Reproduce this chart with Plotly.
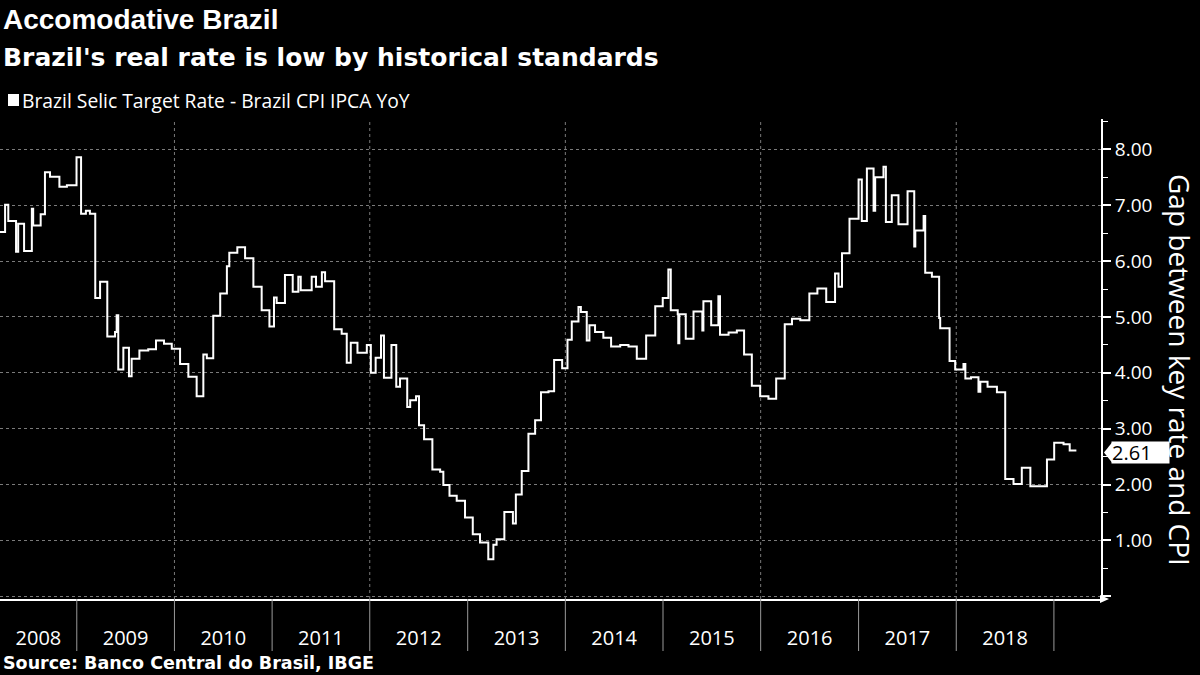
import pandas as pd
import plotly.graph_objects as go

# ---- data ----
dates = [
    "2008-03-20", "2008-04-08", "2008-04-20", "2008-05-19", "2008-05-27", "2008-06-18",
    "2008-07-17", "2008-07-22", "2008-08-19", "2008-09-04", "2008-09-23", "2008-10-28",
    "2008-11-25", "2008-12-31", "2009-01-17", "2009-02-04", "2009-02-19", "2009-03-11",
    "2009-03-29", "2009-04-25", "2009-05-24", "2009-05-30", "2009-06-05", "2009-06-24",
    "2009-07-15", "2009-07-25", "2009-08-23", "2009-09-25", "2009-10-24", "2009-11-23",
    "2009-12-22", "2010-01-22", "2010-02-22", "2010-03-25", "2010-04-19", "2010-05-02",
    "2010-05-26", "2010-06-21", "2010-07-16", "2010-07-25", "2010-08-24", "2010-09-22",
    "2010-10-23", "2010-11-23", "2010-12-22", "2011-01-08", "2011-01-18", "2011-02-18",
    "2011-03-19", "2011-04-09", "2011-04-18", "2011-05-29", "2011-06-14", "2011-07-06",
    "2011-07-18", "2011-08-21", "2011-09-18", "2011-10-07", "2011-10-22", "2011-11-16",
    "2011-12-21", "2012-01-05", "2012-01-23", "2012-02-12", "2012-02-23", "2012-03-22",
    "2012-04-09", "2012-04-23", "2012-05-20", "2012-05-31", "2012-06-22", "2012-07-03",
    "2012-07-22", "2012-08-22", "2012-09-20", "2012-10-02", "2012-10-25", "2012-11-21",
    "2012-12-22", "2013-01-20", "2013-02-16", "2013-03-19", "2013-04-07", "2013-04-19",
    "2013-05-18", "2013-06-19", "2013-06-30", "2013-07-22", "2013-08-16", "2013-09-10",
    "2013-10-02", "2013-10-30", "2013-11-20", "2013-12-20", "2014-01-09", "2014-01-25",
    "2014-02-19", "2014-02-28", "2014-03-22", "2014-04-01", "2014-04-22", "2014-05-23",
    "2014-06-21", "2014-07-25", "2014-08-25", "2014-09-25", "2014-10-30", "2014-12-03",
    "2014-12-31", "2015-01-21", "2015-01-30", "2015-02-25", "2015-02-27", "2015-03-03",
    "2015-03-27", "2015-04-25", "2015-05-28", "2015-06-01", "2015-06-30", "2015-07-27",
    "2015-08-02", "2015-09-03", "2015-10-04", "2015-10-31", "2015-11-29", "2015-12-30",
    "2016-01-30", "2016-02-28", "2016-03-31", "2016-04-27", "2016-05-28", "2016-07-01",
    "2016-07-31", "2016-09-02", "2016-10-05", "2016-10-18", "2016-10-31", "2016-11-28",
    "2017-01-01", "2017-01-13", "2017-02-01", "2017-02-26", "2017-03-04", "2017-04-04",
    "2017-04-13", "2017-05-05", "2017-05-30", "2017-07-03", "2017-07-28", "2017-08-01",
    "2017-09-01", "2017-09-07", "2017-10-02", "2017-10-29", "2017-11-02", "2017-12-07",
    "2017-12-28", "2018-01-28", "2018-02-04", "2018-02-25", "2018-03-25", "2018-04-01",
    "2018-04-28", "2018-06-02", "2018-07-03", "2018-08-03", "2018-09-03", "2018-10-05",
    "2018-12-06", "2019-01-02", "2019-02-06", "2019-03-01", "2019-03-26",
]
gap = [
    6.52, 7.01, 6.72, 6.17, 6.67, 6.18,
    6.94, 6.64, 6.84, 7.59, 7.51, 7.33,
    7.36, 7.86, 6.85, 6.90, 6.85, 5.34,
    5.63, 4.65, 4.73, 5.03, 4.06, 4.45,
    3.94, 4.25, 4.40, 4.42, 4.58, 4.52,
    4.43, 4.16, 3.93, 3.58, 4.33, 4.26,
    5.02, 5.42, 5.91, 6.15, 6.25, 6.05,
    5.54, 5.12, 4.83, 5.35, 5.25, 5.75,
    5.45, 5.72, 5.48, 5.72, 5.54, 5.80,
    5.64, 4.78, 4.70, 4.18, 4.54, 4.36,
    4.50, 4.00, 4.27, 4.67, 3.91, 4.50,
    3.75, 3.90, 3.39, 3.51, 3.58, 3.06,
    2.81, 2.27, 2.23, 1.99, 1.80, 1.71,
    1.41, 1.11, 0.96, 0.66, 0.92, 1.02,
    1.51, 1.30, 1.82, 2.24, 2.91, 3.15,
    3.65, 3.67, 4.23, 4.08, 4.59, 4.92,
    5.18, 5.09, 4.58, 4.85, 4.73, 4.63,
    4.47, 4.50, 4.47, 4.25, 4.67, 5.19,
    5.34, 5.85, 5.12, 5.05, 4.53, 5.05,
    4.61, 5.10, 4.76, 5.28, 4.85, 5.37,
    4.68, 4.72, 4.76, 4.33, 3.77, 3.58,
    3.535, 3.90, 4.87, 4.97, 4.94, 5.42,
    5.51, 5.27, 5.78, 5.54, 6.14, 6.76,
    7.46, 6.72, 7.66, 6.90, 7.50, 7.69,
    6.70, 7.18, 6.66, 7.25, 6.26, 6.55,
    6.81, 5.79, 5.72, 4.98, 4.80, 4.21,
    4.06, 4.16, 3.90, 3.92, 3.66, 3.84,
    3.75, 3.65, 2.10, 2.01, 2.30, 1.97,
    2.45, 2.75, 2.72, 2.61, 2.61,
]
year_labels = ["2008", "2009", "2010", "2011", "2012", "2013",
               "2014", "2015", "2016", "2017", "2018"]
y_tick_values = [0, 1, 2, 3, 4, 5, 6, 7, 8]
y_tick_text = ["", "1.00", "2.00", "3.00", "4.00", "5.00", "6.00", "7.00", "8.00"]

title = "Accomodative Brazil"
subtitle = "Brazil's real rate is low by historical standards"
series_name = "Brazil Selic Target Rate - Brazil CPI IPCA YoY"
y_title = "Gap between key rate and CPI"
source = "Source: Banco Central do Brasil, IBGE"

# ---- layout constants ----
W, H = 1200, 675
M_L, M_R, M_T, M_B = 0, 99, 119, 76
PW, PH = W - M_L - M_R, H - M_T - M_B
X_START, X_END = pd.Timestamp("2008-03-20"), pd.Timestamp("2019-06-26")
Y_MIN, Y_MAX = -0.05, 8.545
GRID = "#7a7a7a"
FONT = "Open Sans, sans-serif"


def px_x(x):
    return (x - M_L) / PW


def px_y(y):
    return (H - M_B - y) / PH


fig = go.Figure()
fig.add_trace(go.Scatter(
    x=dates, y=gap, mode="lines", line=dict(color="white", width=2, shape="hv"),
    name=series_name, showlegend=False, hoverinfo="skip",
))

# tick label positions: centre of the visible part of each year
tickvals = []
for yl in year_labels:
    a = max(pd.Timestamp(f"{yl}-01-01"), X_START)
    b = min(pd.Timestamp(f"{int(yl) + 1}-01-01"), X_END)
    tickvals.append(a + (b - a) / 2)

shapes = []
# year separators below the axis
for yr in range(int(year_labels[0]) + 1, int(year_labels[-1]) + 2):
    shapes.append(dict(type="line", xref="x", yref="paper",
                       x0=f"{yr}-01-01", x1=f"{yr}-01-01", y0=0, y1=px_y(651),
                       line=dict(color="#9a9a9a", width=1)))
# vertical dotted gridlines every two years
for yr in range(2010, 2019, 2):
    shapes.append(dict(type="line", xref="x", yref="paper",
                       x0=f"{yr}-01-01", x1=f"{yr}-01-01", y0=0, y1=1,
                       line=dict(color=GRID, width=1, dash="dot"), layer="below"))
# arrow head at right of x axis
shapes.append(dict(type="path", xref="paper", yref="paper",
                   path=f"M {px_x(1100)},{px_y(595)} L {px_x(1109)},{px_y(599)} L {px_x(1100)},{px_y(603)} Z",
                   fillcolor="white", line=dict(width=0)))
# legend square
shapes.append(dict(type="rect", xref="paper", yref="paper",
                   x0=px_x(8), x1=px_x(19), y0=px_y(106), y1=px_y(94),
                   fillcolor="white", line=dict(width=0)))
# last value marker arrow
last = gap[-1]
dy = 10 / PH * (Y_MAX - Y_MIN)
ylast_shift = -2 / PH * (Y_MAX - Y_MIN)
shapes.append(dict(type="path", xref="paper", yref="y",
                   path=(f"M {px_x(1104)},{last + ylast_shift} "
                         f"L {px_x(1112)},{last + ylast_shift + dy} "
                         f"L {px_x(1112)},{last + ylast_shift - dy} Z"),
                   fillcolor="white", line=dict(width=0)))

annotations = [
    dict(text=f"<b>{title}</b>", xref="paper", yref="paper", x=px_x(1), y=px_y(19),
         xanchor="left", yanchor="middle", showarrow=False,
         font=dict(family="Liberation Sans, Arial, sans-serif", size=28, color="white")),
    dict(text=f"<b>{subtitle}</b>", xref="paper", yref="paper", x=px_x(1), y=px_y(58),
         xanchor="left", yanchor="middle", showarrow=False,
         font=dict(family="DejaVu Sans, sans-serif", size=25, color="white")),
    dict(text=series_name, xref="paper", yref="paper", x=px_x(20), y=px_y(100),
         xanchor="left", yanchor="middle", showarrow=False,
         font=dict(family=FONT, size=19.3, color="white")),
    dict(text=f"<b>{source}</b>", xref="paper", yref="paper", x=px_x(1), y=px_y(663),
         xanchor="left", yanchor="middle", showarrow=False,
         font=dict(family="DejaVu Sans, sans-serif", size=17.5, color="white")),
    dict(text=y_title, xref="paper", yref="paper", x=px_x(1180), y=px_y(370),
         xanchor="center", yanchor="middle", textangle=90, showarrow=False,
         font=dict(family=FONT, size=28, color="white")),
    dict(text=f"{last:.2f}", xref="paper", yref="y", x=px_x(1111), y=last, yshift=-2,
         xanchor="left", yanchor="middle", showarrow=False, bgcolor="white",
         borderpad=0, width=57, height=21, align="left", valign="middle",
         font=dict(family=FONT, size=20, color="black")),
]

fig.update_layout(
    width=W, height=H,
    paper_bgcolor="black", plot_bgcolor="black",
    margin=dict(l=M_L, r=M_R, t=M_T, b=M_B, pad=0),
    showlegend=False,
    shapes=shapes, annotations=annotations,
    xaxis=dict(
        type="date", range=[X_START, X_END],
        showgrid=False, zeroline=False,
        showline=True, linecolor="white", linewidth=2,
        tickmode="array", tickvals=tickvals, ticktext=year_labels,
        ticks="outside", ticklen=20, tickcolor="rgba(0,0,0,0)",
        tickfont=dict(family=FONT, size=20, color="white"),
    ),
    yaxis=dict(
        side="right", range=[Y_MIN, Y_MAX],
        tickmode="array", tickvals=y_tick_values, ticktext=y_tick_text,
        showgrid=True, gridcolor=GRID, griddash="dot", gridwidth=1,
        zeroline=False,
        showline=True, linecolor="white", linewidth=2,
        ticks="outside", ticklen=8, tickwidth=2, tickcolor="white",
        tickfont=dict(family=FONT, size=19, color="white"),
        minor=dict(dtick=0.5, tick0=0, ticks="outside", ticklen=5, tickcolor="white",
                   tickwidth=1, showgrid=False),
    ),
)

fig.write_html(
    "out.html",
    config={"displayModeBar": False},
    post_script="document.body.style.margin='0px';document.body.style.background='black';",
)
